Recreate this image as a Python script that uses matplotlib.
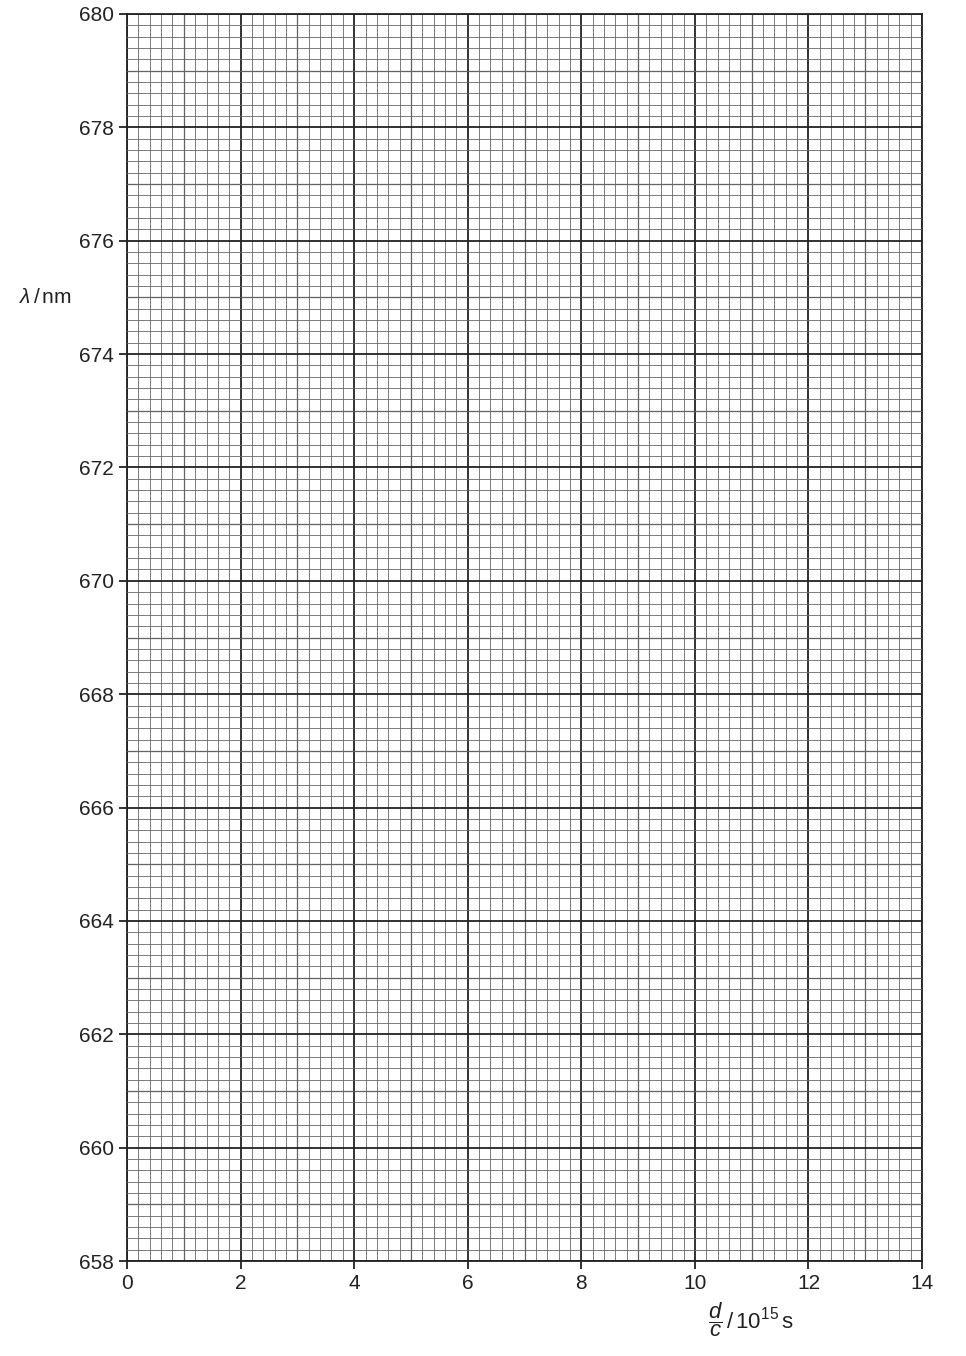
import numpy as np
import matplotlib
matplotlib.use("Agg")
import matplotlib.pyplot as plt
from matplotlib.ticker import MultipleLocator

plt.rcParams['font.family'] = ['Liberation Sans', 'DejaVu Sans']
plt.rcParams['mathtext.fontset'] = 'custom'
plt.rcParams['mathtext.rm'] = 'Liberation Sans'
plt.rcParams['mathtext.it'] = 'Liberation Sans:italic'

# axis ranges and tick labels
x_ticks = [0, 2, 4, 6, 8, 10, 12, 14]
y_ticks = [658, 660, 662, 664, 666, 668, 670, 672, 674, 676, 678, 680]
x_mid = [1, 3, 5, 7, 9, 11, 13]
y_mid = [659, 661, 663, 665, 667, 669, 671, 673, 675, 677, 679]
minor_step = 0.2

fig = plt.figure(figsize=(9.66, 13.56), dpi=100)
ax = fig.add_axes([0.1315, 0.070, 0.823, 0.9197])

ax.set_xlim(x_ticks[0], x_ticks[-1])
ax.set_ylim(y_ticks[0], y_ticks[-1])
ax.set_xticks(x_ticks)
ax.set_yticks(y_ticks)
ax.xaxis.set_minor_locator(MultipleLocator(minor_step))
ax.yaxis.set_minor_locator(MultipleLocator(minor_step))

# graph paper grid
ax.grid(which='minor', color='#666666', linewidth=0.6)
for v in x_mid:
    ax.axvline(v, color='#555555', linewidth=0.9, zorder=1)
for v in y_mid:
    ax.axhline(v, color='#555555', linewidth=0.9, zorder=1)
ax.grid(which='major', color='#222222', linewidth=1.3)
ax.set_axisbelow(False)

ax.tick_params(which='minor', length=0)
ax.tick_params(which='major', direction='out', length=6, width=1.3,
               labelsize=15, color='#222222', labelcolor='#222222')
for s in ax.spines.values():
    s.set_linewidth(1.3)
    s.set_color('#222222')

ax.set_ylabel(r'$\lambda\,$/$\,$nm', rotation=0, fontsize=15, color='#222222',
              va='center', ha='center')
ax.yaxis.set_label_coords(-0.103, 0.773)
ax.set_xlabel(r'$\dfrac{d}{c}\,$/$\,$10$^{15}$$\,$s', fontsize=16, color='#222222',
              va='center', ha='center')
ax.xaxis.set_label_coords(0.785, -0.047)

plt.savefig('out.png', dpi=100)
